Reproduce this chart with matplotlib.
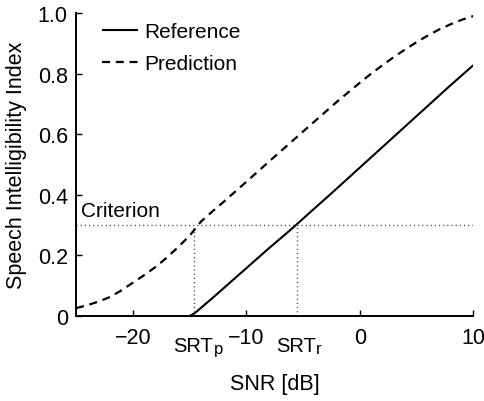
import matplotlib
matplotlib.use("Agg")
import matplotlib.pyplot as plt
import numpy as np

plt.rcParams['font.family'] = ['Liberation Sans', 'DejaVu Sans']

# Data
ref_snr = [-15, -14.7, -14.4, -14, -13, -12, -10, -8, -6, -4, -2, 0, 2, 4, 6, 8, 10]
ref_sii = [0.0, 0.006, 0.014, 0.027, 0.059, 0.092, 0.158, 0.224, 0.288, 0.355, 0.422, 0.49, 0.558, 0.626, 0.694, 0.762, 0.828]
pred_snr = [-25, -24, -23, -22, -21, -20, -19, -18, -17, -16, -15, -14, -13, -12, -10, -8, -6, -4, -2, 0, 1, 2, 3, 4, 5, 6, 7, 8, 9, 10]
pred_sii = [0.026, 0.036, 0.048, 0.063, 0.085, 0.11, 0.135, 0.162, 0.193, 0.228, 0.265, 0.312, 0.345, 0.377, 0.443, 0.51, 0.576, 0.642, 0.708, 0.77, 0.8, 0.828, 0.855, 0.88, 0.904, 0.926, 0.946, 0.963, 0.978, 0.99]
criterion = 0.3
srt_p = -14.6
srt_r = -5.55
xticks = [-20, -10, 0, 10]
xticklabels = ['\u221220', '\u221210', '0', '10']
yticks = [0, 0.2, 0.4, 0.6, 0.8, 1.0]
yticklabels = ['0', '0.2', '0.4', '0.6', '0.8', '1.0']

fig = plt.figure(figsize=(4.85, 4.02), dpi=100)
ax = fig.add_axes([0.157, 0.2114, 0.819, 0.7537])

fs = 15.5
ax.plot(ref_snr, ref_sii, color='black', lw=1.5, solid_capstyle='butt', solid_joinstyle='round', label='Reference')
ax.plot(pred_snr, pred_sii, color='black', lw=1.6, linestyle=(0, (3.6, 2.6)), label='Prediction')

dot = dict(color='#444444', lw=1.0, linestyle=(0, (0.8, 2.2)))
ax.plot([-25, 10], [criterion, criterion], **dot)
ax.plot([srt_p, srt_p], [0, criterion], **dot)
ax.plot([srt_r, srt_r], [0, criterion], **dot)

ax.text(-24.6, 0.331, 'Criterion', fontsize=15, ha='left', va='baseline')

ax.set_xlim(-25, 10)
ax.set_ylim(0, 1.0)
ax.set_xticks(xticks)
ax.set_xticklabels(xticklabels, fontsize=fs)
ax.set_yticks(yticks)
ax.set_yticklabels(yticklabels, fontsize=fs)
ax.tick_params(axis='x', direction='in', length=4, width=1.0, pad=8)
ax.tick_params(axis='y', direction='in', length=4, width=1.0, pad=6)
ax.spines['top'].set_visible(False)
ax.spines['right'].set_visible(False)
for s in ['left', 'bottom']:
    ax.spines[s].set_linewidth(1.4)

ax.set_xlabel('SNR [dB]', fontsize=fs, labelpad=18)
ax.set_ylabel('Speech Intelligibility Index', fontsize=fs, labelpad=7.5)

leg = ax.legend(loc='upper left', bbox_to_anchor=(0.043, 0.998), frameon=False, fontsize=15,
                handlelength=1.76, handletextpad=0.27, labelspacing=0.62, borderaxespad=0)

# SRT labels with small subscript letters
fig.canvas.draw()
renderer = fig.canvas.get_renderer()
for x, sub in [(srt_p, 'p'), (srt_r, 'r')]:
    t = ax.annotate('SRT', xy=(x, 0), xycoords='data', xytext=(-21, -34.7), textcoords='offset pixels',
                    ha='left', va='baseline', fontsize=14.5)
    bb = t.get_window_extent(renderer)
    xd = ax.transData.transform((x, 0))[0]
    ax.annotate(sub, xy=(x, 0), xycoords='data', xytext=(bb.x1 - xd + 0.5, -36.5), textcoords='offset pixels',
                ha='left', va='baseline', fontsize=12)

fig.savefig('out.png', dpi=100)
